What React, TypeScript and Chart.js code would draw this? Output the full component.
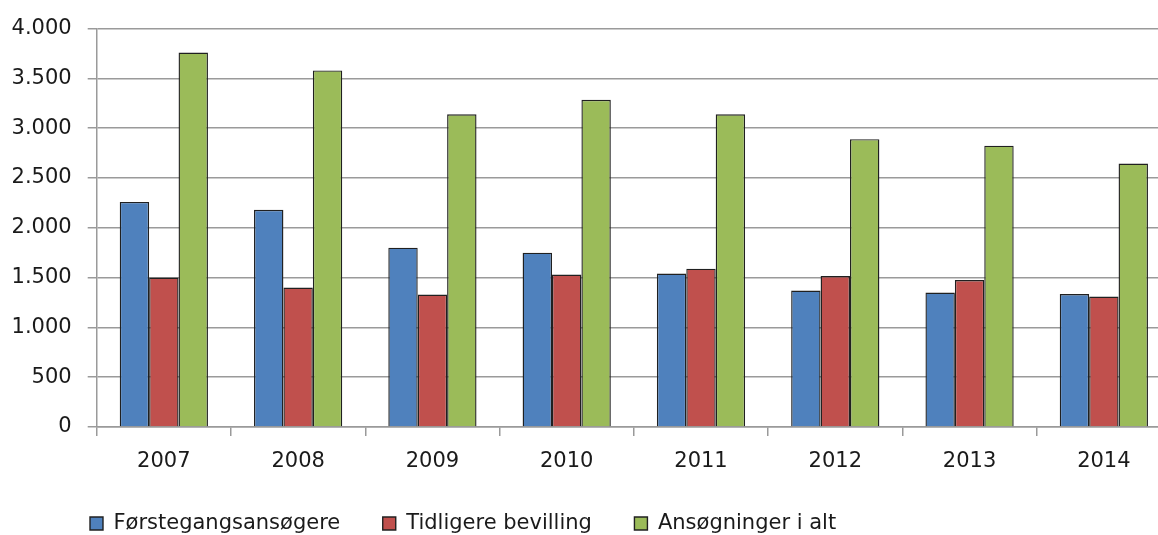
import React, { useEffect, useRef } from "react";
import { Chart, registerables } from "chart.js";

Chart.register(...registerables);

const categories = ["2007", "2008", "2009", "2010", "2011", "2012", "2013", "2014"];
const foerstegang = [2260, 2180, 1800, 1750, 1540, 1370, 1350, 1335];
const tidligere = [1500, 1400, 1330, 1530, 1590, 1515, 1475, 1310];
const iAlt = [3760, 3580, 3140, 3285, 3140, 2890, 2825, 2645];
const seriesNames = ["Førstegangsansøgere", "Tidligere bevilling", "Ansøgninger i alt"];

const fmt = (v: number) => String(v).replace(/\B(?=(\d{3})+(?!\d))/g, ".");

const legendShift = {
  id: "legendShift",
  afterLayout(chart: any) {
    if (chart.legend) {
      chart.legend.left = 47.5;
    }
  },
};

export default function App() {
  const ref = useRef<HTMLCanvasElement | null>(null);
  useEffect(() => {
    document.body.style.margin = "0";
    const canvas = ref.current!;
    const gridColor = "#9a9a9a";
    const chart = new Chart(canvas, {
      type: "bar",
      data: {
        labels: categories,
        datasets: [
          { label: seriesNames[0], data: foerstegang, backgroundColor: "#4F81BD", borderColor: "#202020", borderWidth: 1.4 },
          { label: seriesNames[1], data: tidligere, backgroundColor: "#C0504D", borderColor: "#202020", borderWidth: 1.4 },
          { label: seriesNames[2], data: iAlt, backgroundColor: "#9BBB59", borderColor: "#202020", borderWidth: 1.4 },
        ],
      },
      plugins: [legendShift],
      options: {
        responsive: false,
        animation: false,
        devicePixelRatio: 1,
        layout: { padding: { left: 0, right: 1, top: 25, bottom: 0 } },
        datasets: { bar: { categoryPercentage: 0.657, barPercentage: 1 } },
        font: { family: "DejaVu Sans", size: 21 },
        plugins: {
          tooltip: { enabled: false },
          legend: {
            position: "bottom",
            align: "start",
            labels: {
              boxWidth: 13,
              boxHeight: 13,
              padding: 42.5,
              color: "#1a1a1a",
              font: { family: "DejaVu Sans", size: 21 },
            },
          },
        },
        scales: {
          x: {
            grid: { display: true, drawOnChartArea: false, drawTicks: true, tickLength: 9, color: gridColor, lineWidth: 1.5 },
            border: { display: true, color: gridColor, width: 1.5 },
            ticks: { color: "#1a1a1a", padding: 13, font: { family: "DejaVu Sans", size: 21 }, maxRotation: 0 },
            afterFit: (s: any) => { s.height = 43.5; },
          },
          y: {
            min: 0,
            max: 4000,
            ticks: { stepSize: 500, color: "#1a1a1a", padding: 16, font: { family: "DejaVu Sans", size: 21 }, callback: (v: any) => fmt(Number(v)) },
            grid: { color: gridColor, lineWidth: 1.5, tickLength: 9, drawTicks: true },
            border: { display: true, color: gridColor, width: 1.5 },
            afterFit: (s: any) => { s.width = 96.7; },
          },
        },
      },
    } as any);
    return () => chart.destroy();
  }, []);
  return (
    <div style={{ width: 1158, height: 535, overflow: "hidden", position: "relative", background: "#fff" }}>
      <canvas ref={ref} width={1172} height={544} style={{ display: "block", width: 1172, height: 544 }} />
    </div>
  );
}
